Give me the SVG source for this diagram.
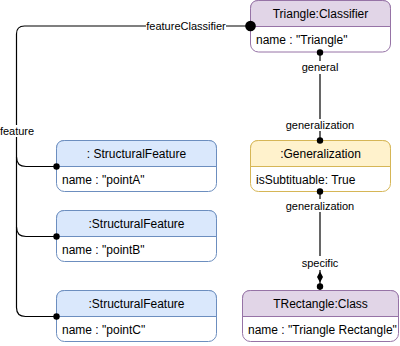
<svg xmlns="http://www.w3.org/2000/svg" width="400" height="346" viewBox="0 0 400 346">
  <style>
    text { font-family: "Liberation Sans", Arial, sans-serif; fill: #000; }
    .title { font-size: 12px; text-anchor: middle; dominant-baseline: central; }
    .attr { font-size: 12px; dominant-baseline: central; }
    .lbl { font-size: 11px; text-anchor: middle; dominant-baseline: central; }
    .lblbg { fill: #fff; }
    .body { fill: #fff; stroke-width: 1; }
    .wire { fill: none; stroke: #000; stroke-width: 1.2; }
    .dot { fill: #000; }
    .purple .body, .purple .head, .purple .div { stroke: #9673a6; }
    .purple .head { fill: #e1d5e7; }
    .blue .body, .blue .head, .blue .div { stroke: #6c8ebf; }
    .blue .head { fill: #dae8fc; }
    .yellow .body, .yellow .head, .yellow .div { stroke: #d6b656; }
    .yellow .head { fill: #fff2cc; }
  </style>

  <!-- connectors -->
  <g id="connectors">
    <!-- featureClassifier / feature -->
    <path class="wire" d="M250,26 H24.5 Q16.5,26 16.5,34 V307.5 Q16.5,316.5 25.5,316.5 H56.5"/>
    <path class="wire" d="M16.5,157 Q16.5,166.5 26,166.5 H56.5"/>
    <path class="wire" d="M16.5,227 Q16.5,236.5 26,236.5 H56.5"/>
    <rect class="lblbg" x="146" y="20" width="80" height="12"/>
    <text class="lbl" x="186" y="26">featureClassifier</text>
    <rect class="lblbg" x="0" y="125" width="34" height="12"/>
    <text class="lbl" x="17" y="131">feature</text>

    <!-- general / generalization -->
    <path class="wire" d="M320,52.5 V140.5"/>
    <rect class="lblbg" x="300" y="61" width="40" height="13"/>
    <text class="lbl" x="320" y="67">general</text>
    <rect class="lblbg" x="286" y="119" width="68" height="12"/>
    <text class="lbl" x="320" y="125">generalization</text>

    <!-- generalization / specific -->
    <path class="wire" d="M320,191.5 V290.5"/>
    <path class="dot" d="M320,271.5 L323,277 L320,282.5 L317,277 Z"/>
    <circle class="dot" cx="320" cy="286.5" r="3.2"/>
    <rect class="lblbg" x="286" y="199" width="68" height="13"/>
    <text class="lbl" x="320" y="205.5">generalization</text>
    <rect class="lblbg" x="300" y="256" width="40" height="14"/>
    <text class="lbl" x="320" y="263">specific</text>
  </g>

  <!-- Triangle:Classifier -->
  <g id="triangle-classifier" class="purple" transform="translate(250.5,0.5)">
    <rect class="body" x="0" y="0" width="140" height="51.5" rx="8"/>
    <path class="head" d="M0,26 V8 Q0,0 8,0 H132 Q140,0 140,8 V26 Z"/>
    <line class="div" x1="0" y1="26" x2="140" y2="26"/>
    <text class="title" x="70" y="13.5">Triangle:Classifier</text>
    <text class="attr" x="5.5" y="39.5">name : "Triangle"</text>
  </g>

  <!-- :Generalization -->
  <g id="generalization" class="yellow" transform="translate(250.5,140.5)">
    <rect class="body" x="0" y="0" width="140" height="51" rx="8"/>
    <path class="head" d="M0,26 V8 Q0,0 8,0 H132 Q140,0 140,8 V26 Z"/>
    <line class="div" x1="0" y1="26" x2="140" y2="26"/>
    <text class="title" x="70" y="13.5">:Generalization</text>
    <text class="attr" x="5.5" y="39">isSubtituable: True</text>
  </g>

  <!-- TRectangle:Class -->
  <g id="trectangle-class" class="purple" transform="translate(242.5,290.5)">
    <rect class="body" x="0" y="0" width="156" height="51" rx="8"/>
    <path class="head" d="M0,26 V8 Q0,0 8,0 H148 Q156,0 156,8 V26 Z"/>
    <line class="div" x1="0" y1="26" x2="156" y2="26"/>
    <text class="title" x="78" y="13.5">TRectangle:Class</text>
    <text class="attr" x="5.5" y="39">name : "Triangle Rectangle"</text>
  </g>

  <!-- StructuralFeature pointA -->
  <g id="feature-pointA" class="blue" transform="translate(56.5,140.5)">
    <rect class="body" x="0" y="0" width="160" height="51" rx="8"/>
    <path class="head" d="M0,26 V8 Q0,0 8,0 H152 Q160,0 160,8 V26 Z"/>
    <line class="div" x1="0" y1="26" x2="160" y2="26"/>
    <text class="title" x="80" y="13.5">: StructuralFeature</text>
    <text class="attr" x="5.5" y="39">name : "pointA"</text>
  </g>

  <!-- StructuralFeature pointB -->
  <g id="feature-pointB" class="blue" transform="translate(56.5,210.5)">
    <rect class="body" x="0" y="0" width="160" height="51" rx="8"/>
    <path class="head" d="M0,26 V8 Q0,0 8,0 H152 Q160,0 160,8 V26 Z"/>
    <line class="div" x1="0" y1="26" x2="160" y2="26"/>
    <text class="title" x="80" y="13.5">:StructuralFeature</text>
    <text class="attr" x="5.5" y="39">name : "pointB"</text>
  </g>

  <!-- StructuralFeature pointC -->
  <g id="feature-pointC" class="blue" transform="translate(56.5,290.5)">
    <rect class="body" x="0" y="0" width="160" height="51" rx="8"/>
    <path class="head" d="M0,26 V8 Q0,0 8,0 H152 Q160,0 160,8 V26 Z"/>
    <line class="div" x1="0" y1="26" x2="160" y2="26"/>
    <text class="title" x="80" y="13.5">:StructuralFeature</text>
    <text class="attr" x="5.5" y="39">name : "pointC"</text>
  </g>

  <!-- connector end dots, drawn over the node borders -->
  <g id="connector-ends">
    <circle class="dot" cx="250.5" cy="26" r="5.3"/>
    <circle class="dot" cx="56.5" cy="166.5" r="3.2"/>
    <circle class="dot" cx="56.5" cy="236.5" r="3.2"/>
    <circle class="dot" cx="56.5" cy="316.5" r="3.2"/>
    <circle class="dot" cx="320" cy="52.5" r="3.2"/>
    <circle class="dot" cx="320" cy="140.5" r="3.2"/>
    <circle class="dot" cx="320" cy="191.5" r="3.2"/>
  </g>
</svg>
